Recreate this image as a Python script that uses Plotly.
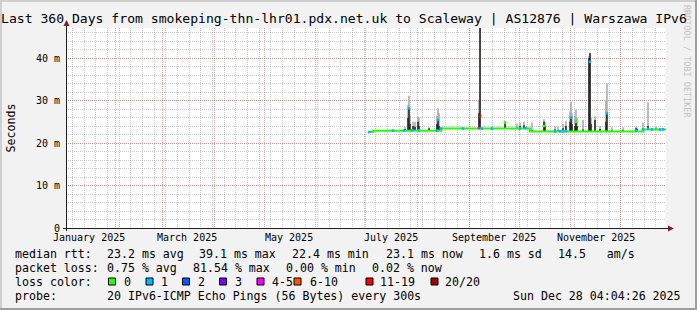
import plotly.graph_objects as go

# ---------------- data ----------------
title_text = "Last 360 Days from smokeping-thn-lhr01.pdx.net.uk to Scaleway | AS12876 | Warszawa IPv6"
x_start = "2025-01-02 04:04:26"
x_end = "2025-12-28 04:04:26"
y_max = 47.06

month_starts = ["2025-02-01", "2025-03-01", "2025-04-01", "2025-05-01", "2025-06-01",
                "2025-07-01", "2025-08-01", "2025-09-01", "2025-10-01", "2025-11-01", "2025-12-01"]
label_dates = ["2025-01-16", "2025-03-16", "2025-05-16", "2025-07-16", "2025-09-16", "2025-11-16"]
label_texts = ["January 2025", "March 2025", "May 2025", "July 2025", "September 2025", "November 2025"]

ytick_vals = [0, 10, 20, 30, 40]
ytick_text = ["0", "10 m", "20 m", "30 m", "40 m"]

# baseline median (ms), step changes
base_dates = ["2025-07-02 23:00", "2025-07-05 09:00", "2025-08-15 04:00",
              "2025-10-07 14:00", "2025-12-14 09:00", "2025-12-28 04:00"]
base_vals = [22.6, 22.9, 23.4, 22.7, 23.2, 23.2]

# smoke spikes: date, low, dark core top, light smoke top (ms)
spike_dates = ["2025-07-24 14:00", "2025-07-26 09:00", "2025-07-26 23:00", "2025-07-27 14:00",
               "2025-07-29 09:00", "2025-07-30 14:00", "2025-08-01 09:00", "2025-08-01 23:00",
               "2025-08-07 23:00", "2025-08-12 18:00", "2025-08-13 09:00", "2025-08-13 23:00",
               "2025-09-06 23:00", "2025-09-07 14:00", "2025-09-22 14:00", "2025-09-29 18:00",
               "2025-10-01 14:00", "2025-10-03 23:00", "2025-10-08 18:00", "2025-10-15 23:00",
               "2025-10-16 14:00", "2025-10-22 14:00", "2025-10-24 09:00", "2025-10-27 09:00",
               "2025-10-29 04:00", "2025-10-31 14:00", "2025-11-01 04:00", "2025-11-01 18:00",
               "2025-11-03 14:00", "2025-11-04 04:00", "2025-11-04 18:00", "2025-11-08 09:00",
               "2025-11-11 23:00", "2025-11-12 14:00", "2025-11-13 04:00", "2025-11-15 14:00",
               "2025-11-18 14:00", "2025-11-22 04:00", "2025-11-22 18:00", "2025-11-25 18:00",
               "2025-12-02 09:00", "2025-12-10 04:00", "2025-12-10 18:00", "2025-12-14 09:00",
               "2025-12-17 09:00", "2025-12-22 04:00"]
spike_lo = [22.9, 22.9, 22.9, 22.9, 22.9, 22.9, 22.9, 22.9, 22.9, 22.9, 22.9, 22.9,
            23.4, 23.4, 23.4, 23.4, 23.4, 23.4, 22.7, 22.7, 22.7, 22.7, 22.7, 22.7,
            22.7, 22.7, 22.7, 22.7, 22.7, 22.7, 22.7, 22.7, 22.7, 22.7, 22.7, 22.7,
            22.7, 22.7, 22.7, 22.7, 22.7, 22.7, 22.7, 23.2, 23.2, 23.2]
spike_core = [23.3, 25.9, 28.2, 24.5, 24.0, 23.8, 25.0, 24.0, 23.5, 24.5, 25.4, 24.0,
              27.0, 50.0, 25.0, 23.6, 24.0, 24.2, 23.0, 25.0, 24.0, 23.2, 23.0, 23.5,
              24.0, 25.0, 26.0, 24.5, 24.0, 25.0, 24.0, 23.2, 40.0, 41.1, 24.5, 25.4,
              23.3, 25.0, 27.0, 23.0, 23.0, 23.5, 23.3, 23.5, 24.0, 23.4]
spike_top = [23.8, 29.0, 31.1, 26.5, 25.0, 25.0, 26.2, 26.0, 23.7, 26.5, 28.2, 27.0,
             30.0, 50.0, 25.2, 24.6, 24.7, 25.0, 24.8, 25.6, 25.0, 24.0, 23.9, 24.5,
             25.2, 27.5, 29.7, 27.0, 26.5, 27.9, 26.0, 25.4, 40.5, 41.3, 26.0, 26.3,
             24.0, 30.0, 34.0, 23.7, 23.7, 23.8, 23.6, 24.8, 29.6, 23.8]

# median points with packet loss (class index into loss_labels)
loss_dates = ["2025-07-02 23:00", "2025-07-17 09:00", "2025-07-23 23:00", "2025-07-26 23:00",
              "2025-07-28 18:00", "2025-08-01 23:00", "2025-08-12 18:00", "2025-08-13 09:00",
              "2025-08-15 04:00", "2025-08-28 09:00", "2025-09-06 23:00", "2025-09-07 14:00",
              "2025-09-08 18:00", "2025-09-14 18:00", "2025-09-22 14:00", "2025-10-01 14:00",
              "2025-10-05 04:00", "2025-10-15 23:00", "2025-10-22 14:00", "2025-10-25 14:00",
              "2025-10-27 09:00", "2025-10-29 04:00", "2025-11-01 04:00", "2025-11-04 04:00",
              "2025-11-12 14:00", "2025-11-22 18:00", "2025-12-10 04:00", "2025-12-14 09:00",
              "2025-12-17 09:00", "2025-12-19 18:00", "2025-12-24 14:00", "2025-12-26 09:00"]
loss_vals = [22.6, 22.9, 22.9, 28.2, 23.0, 23.0, 22.9, 25.4, 23.4, 23.4, 23.5, 26.3,
             23.4, 23.4, 24.8, 23.4, 23.5, 24.0, 22.7, 22.8, 22.8, 22.8, 26.0, 25.0,
             39.1, 27.0, 22.9, 23.2, 23.3, 23.2, 23.2, 23.2]
loss_class = [1, 1, 1, 1, 1, 1, 1, 1, 1, 1, 4, 6, 1, 1, 0, 1, 1, 0, 1, 1, 1, 1, 1, 0,
              1, 1, 1, 1, 1, 1, 1, 1]

loss_labels = ["0", "1", "2", "3", "4-5", "6-10", "11-19", "20/20"]
loss_colors = ["#26ff00", "#00b8ff", "#0059ff", "#7e00ff", "#ff00ff", "#ff5500", "#ff0000", "#a10000"]

legend_rows = [
    ["median rtt:", "23.2 ms avg", "39.1 ms max", "22.4 ms min", "23.1 ms now", "1.6 ms sd", "14.5   am/s"],
    ["packet loss:", "0.75 % avg", "81.54 % max", "0.00 % min", "0.02 % now"],
]
probe_label = "probe:"
probe_text = "20 IPv6-ICMP Echo Pings (56 Bytes) every 300s"
stamp_text = "Sun Dec 28 04:04:26 2025"

# ---------------- layout geometry (pixels) ----------------
W, H = 697, 310
L, T, PW, PH = 66, 28, 600, 200
FONT = "DejaVu Sans Mono"


def xp(px):
    return (px - L) / PW


def yp(py):
    return (T + PH - py) / PH


def segs(xs, lo, hi):
    X, Y = [], []
    for x, a, b in zip(xs, lo, hi):
        X += [x, x, None]
        Y += [a, b, None]
    return X, Y


fig = go.Figure()

sx, sy = segs(spike_dates, spike_lo, spike_top)
fig.add_trace(go.Scatter(x=sx, y=sy, mode="lines", line=dict(color="#a6a6a6", width=1.5),
                         hoverinfo="skip", showlegend=False))
cx, cy = segs(spike_dates, spike_lo, spike_core)
fig.add_trace(go.Scatter(x=cx, y=cy, mode="lines", line=dict(color="#222222", width=1.5),
                         hoverinfo="skip", showlegend=False))
fig.add_trace(go.Scatter(x=base_dates, y=base_vals, mode="lines", line=dict(color=loss_colors[0], width=2, shape="hv"),
                         hoverinfo="skip", showlegend=False))
fig.add_trace(go.Scatter(x=loss_dates, y=loss_vals, mode="markers",
                         marker=dict(symbol="square", size=2.6, color=[loss_colors[c] for c in loss_class],
                                     line=dict(width=0)),
                         hoverinfo="skip", showlegend=False))

minor_grid = "rgba(143,143,143,0.45)"
major_grid = "rgba(222,79,79,0.5)"

fig.update_layout(
    width=W, height=H,
    margin=dict(l=L, r=W - L - PW, t=T, b=H - T - PH, pad=0),
    paper_bgcolor="#f2f2f2", plot_bgcolor="#ffffff",
    font=dict(family=FONT, size=10, color="#000000"),
    showlegend=False,
    xaxis=dict(type="date", range=[x_start, x_end], tickmode="array", tickvals=month_starts,
               showticklabels=False, ticks="", showgrid=True, gridcolor=major_grid, griddash="1px,1px",
               gridwidth=1, zeroline=False, showline=False, fixedrange=True,
               minor=dict(dtick=7 * 24 * 3600 * 1000, tick0="2025-01-06", showgrid=True,
                          gridcolor=minor_grid, griddash="1px,1px", gridwidth=1, ticks="")),
    yaxis=dict(range=[0, y_max], tickmode="array", tickvals=ytick_vals, ticktext=ytick_text,
               showgrid=True, gridcolor=major_grid, griddash="1px,1px", gridwidth=1,
               zeroline=False, showline=False, ticks="", ticklabelstandoff=5, fixedrange=True,
               tickfont=dict(family=FONT, size=10),
               minor=dict(dtick=2, showgrid=True, gridcolor=minor_grid, griddash="1px,1px", gridwidth=1, ticks="")),
)

shapes = []
# frame bevel
shapes.append(dict(type="rect", xref="paper", yref="paper", x0=xp(0), x1=xp(W), y0=yp(0), y1=yp(2),
                   fillcolor="#cfcfcf", line=dict(width=0), layer="above"))
shapes.append(dict(type="rect", xref="paper", yref="paper", x0=xp(0), x1=xp(2), y0=yp(0), y1=yp(H),
                   fillcolor="#cfcfcf", line=dict(width=0), layer="above"))
shapes.append(dict(type="rect", xref="paper", yref="paper", x0=xp(0), x1=xp(W), y0=yp(H - 2), y1=yp(H),
                   fillcolor="#9e9e9e", line=dict(width=0), layer="above"))
shapes.append(dict(type="rect", xref="paper", yref="paper", x0=xp(W - 2), x1=xp(W), y0=yp(0), y1=yp(H),
                   fillcolor="#9e9e9e", line=dict(width=0), layer="above"))
# axes lines
shapes.append(dict(type="line", xref="paper", yref="paper", x0=xp(63), x1=xp(669), y0=yp(228.5), y1=yp(228.5),
                   line=dict(color="#1f1f1f", width=1), layer="above"))
shapes.append(dict(type="line", xref="paper", yref="paper", x0=xp(66.5), x1=xp(66.5), y0=yp(231), y1=yp(24),
                   line=dict(color="#1f1f1f", width=1), layer="above"))
# arrows
shapes.append(dict(type="path", xref="paper", yref="paper",
                   path=f"M {xp(66.5)} {yp(20)} L {xp(63.5)} {yp(26)} L {xp(69.5)} {yp(26)} Z",
                   fillcolor="#801f1f", line=dict(width=0), layer="above"))
shapes.append(dict(type="path", xref="paper", yref="paper",
                   path=f"M {xp(674)} {yp(228.5)} L {xp(668)} {yp(225.5)} L {xp(668)} {yp(231.5)} Z",
                   fillcolor="#801f1f", line=dict(width=0), layer="above"))

annotations = []


def text_at(px, py, s, size=11.6, color="#000000", xanchor="left", angle=0):
    annotations.append(dict(xref="paper", yref="paper", x=xp(px), y=yp(py), text=s.replace(" ", "\u00a0"),
                            showarrow=False, xanchor=xanchor, yanchor="middle", textangle=angle,
                            borderpad=0, borderwidth=0,
                            font=dict(family=FONT, size=size, color=color)))


# watermark
text_at(687, 61, "RRDTOOL / TOBI OETIKER", size=8.5, color="#c2c2c2", xanchor="center", angle=90)
# title
text_at(1, 18.5, title_text, size=13.1)
# y axis title
text_at(10.5, 128, "Seconds", size=11.6, xanchor="center", angle=-90)
# x tick labels
for d, s in zip(label_dates, label_texts):
    annotations.append(dict(xref="x", yref="paper", x=d, y=yp(237.5), text=s.replace(" ", "\u00a0"),
                            showarrow=False, xanchor="center", yanchor="middle", borderpad=0,
                            font=dict(family=FONT, size=10, color="#000000")))

# legend rows
row_y = [254, 268, 282, 296]
row1_x = [15, 106.5, 199, 292, 386, 478.5, 557.5]
row2_x = [15, 106.5, 192.5, 285.5, 371.5]
for s, x in zip(legend_rows[0], row1_x):
    text_at(x, row_y[0], s)
for s, x in zip(legend_rows[1], row2_x):
    text_at(x, row_y[1], s)
text_at(15, row_y[2], "loss color:")
sq_x = [108.5, 146, 182.5, 219.5, 257, 294, 366, 431]
lbl_x = [123.5, 160.5, 198, 235.5, 272, 310, 379.5, 445.5]
for c, lab, sx0, lx in zip(loss_colors, loss_labels, sq_x, lbl_x):
    shapes.append(dict(type="rect", xref="paper", yref="paper", x0=xp(sx0), x1=xp(sx0 + 7),
                       y0=yp(285), y1=yp(278), fillcolor=c, line=dict(color="#000000", width=1), layer="above"))
    text_at(lx, row_y[2], lab)
text_at(15, row_y[3], probe_label)
text_at(106.5, row_y[3], probe_text)
text_at(681, row_y[3], stamp_text, xanchor="right")

fig.update_layout(shapes=shapes, annotations=annotations)
fig.write_html("out.html")
